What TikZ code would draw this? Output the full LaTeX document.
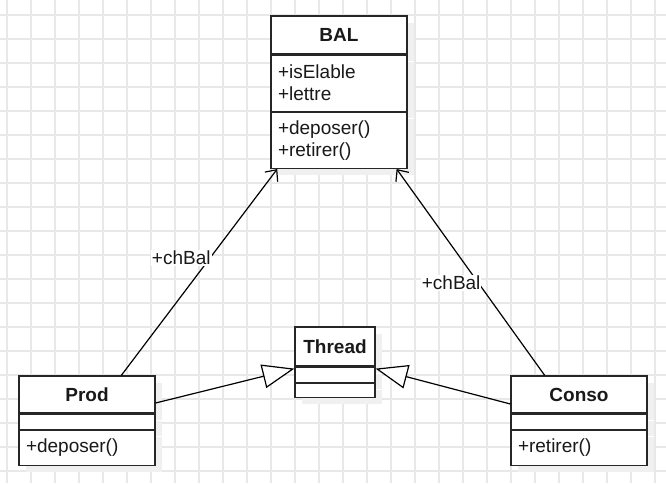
\documentclass[tikz,border=0pt]{standalone}
\usepackage{fontspec}
\setmainfont{Liberation Sans}
\usetikzlibrary{arrows.meta, positioning, shadows, calc}

\begin{document}
\begin{tikzpicture}[x=1pt, y=-1pt,
  gridline/.style={line width=1.6pt, draw=black!9},
  classhead/.style 2 args={draw=black!85, line width=1.2pt, fill=white, text=black!90,
    minimum width=#1, minimum height=#2, inner sep=0pt,
    font=\fontsize{19}{22}\selectfont\bfseries,
    drop shadow={shadow xshift=7pt, shadow yshift=-7pt, fill=black!6, opacity=1}},
  classpart/.style 2 args={draw=black!85, line width=1.2pt, fill=white, text=black!90,
    text width=#1, minimum height=#2, inner xsep=7pt, inner ysep=0pt, align=left,
    font=\fontsize{19}{22}\selectfont,
    drop shadow={shadow xshift=7pt, shadow yshift=-7pt, fill=black!6, opacity=1}},
  assoc/.style={line width=1.2pt, draw=black, -{Straight Barb[length=9pt, width=16pt]}},
  inherit/.style={line width=1.2pt, draw=black, -{Triangle[length=32pt, width=24pt, fill=white]}},
  rolelabel/.style={fill=white, inner sep=1pt, text=black!90, font=\fontsize{19}{22}\selectfont}
  ]

  \useasboundingbox (0,0) rectangle (666,483);

  % Background grid
  \foreach \gx in {7,31,...,655} \draw[gridline] (\gx,0) -- (\gx,483);
  \foreach \gy in {15,39,...,471} \draw[gridline] (0,\gy) -- (666,\gy);

  % BAL
  \node[classhead={136pt}{38pt}] (balhead) at (339,35) {BAL};
  \node[classpart={122pt}{56pt}, below=0pt of balhead] (balattr) {+isElable\\+lettre};
  \node[classpart={122pt}{56pt}, below=0pt of balattr] (balops) {+deposer()\\+retirer()};

  % Thread
  \node[classhead={80pt}{39pt}] (threadhead) at (335,346.5) {Thread};
  \node[classpart={66pt}{15pt}, below=0pt of threadhead] (threadattr) {};
  \node[classpart={66pt}{14pt}, below=0pt of threadattr] (threadops) {};

  % Prod
  \node[classhead={136pt}{37pt}] (prodhead) at (87,394.5) {Prod};
  \node[classpart={122pt}{15pt}, below=0pt of prodhead] (prodattr) {};
  \node[classpart={122pt}{35pt}, below=0pt of prodattr] (prodops) {+deposer()};

  % Conso
  \node[classhead={136pt}{37pt}] (consohead) at (579,394.5) {Conso};
  \node[classpart={122pt}{15pt}, below=0pt of consohead] (consoattr) {};
  \node[classpart={122pt}{35pt}, below=0pt of consoattr] (consoops) {+retirer()};

  % Associations
  \draw[assoc] ($(prodhead.north west)!0.75!(prodhead.north east)$)
    -- node[rolelabel, pos=0.57, anchor=east, xshift=2pt] (prodrole) {+chBal}
    ($(balops.south west)!0.05!(balops.south east)$);
  \draw[assoc] ($(consohead.north west)!0.25!(consohead.north east)$)
    -- node[rolelabel, pos=0.45, anchor=east, xshift=4pt] (consorole) {+chBal}
    ($(balops.south west)!0.92!(balops.south east)$);

  % Inheritance
  \draw[inherit] ([yshift=-8.5pt]prodhead.east) -- ([yshift=-2pt]threadhead.south west);
  \draw[inherit] ([yshift=-9.5pt]consohead.west) -- ([yshift=-2pt]threadhead.south east);

\end{tikzpicture}
\end{document}
